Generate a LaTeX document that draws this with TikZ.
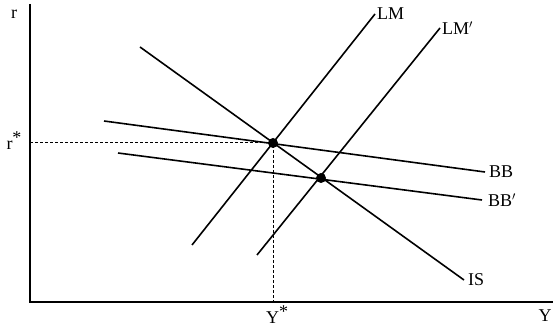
\documentclass[tikz,border=0pt]{standalone}
\usepackage{fontspec}
\setmainfont{Liberation Serif}
\usepackage{tikz}
\usetikzlibrary{arrows.meta,positioning}

\begin{document}
\begin{tikzpicture}[
    x=1pt, y=-1pt,
    font=\fontsize{18}{20}\selectfont,
    axis/.style={line width=2.8pt},
    curve/.style={line width=1.6pt},
    guide/.style={line width=1pt, dash pattern=on 3pt off 2pt},
    eqdot/.style={circle, fill, inner sep=0pt, minimum size=10pt},
    lbl/.style={inner sep=1pt}
]
    \useasboundingbox (0,0) rectangle (553,328);

    %% Achsen
    \coordinate (origin) at (30,302);
    \coordinate (ytop) at (30,4);
    \coordinate (xend) at (553,302);
    \draw[axis] (ytop) -- (origin) -- (xend);
    \node[lbl] (rlab) at (14,14) {r};
    \node[lbl] (ylab) at (545,316) {Y};

    %% Gleichgewichtspunkte
    \node[eqdot] (eq) at (273,143) {};
    \node[eqdot] (eqnew) at (321,178) {};

    %% Hilfslinien
    \coordinate (rstar) at (30,143);
    \coordinate (ystar) at (273,302);
    \draw[guide] (rstar) -- (eq.center) -- (ystar);
    \node[lbl] (rstarlab) at (14,141) {r\raisebox{6pt}{*}};
    \node[lbl] (ystarlab) at (277,315) {Y\raisebox{6pt}{*}};

    %% Kurven
    \coordinate (lm1) at (192,245);
    \coordinate (lm2) at (375,14);
    \coordinate (lmp1) at (257,255);
    \coordinate (lmp2) at (440,28);
    \coordinate (is1) at (140,47);
    \coordinate (is2) at (464,280);
    \coordinate (bb1) at (104,121);
    \coordinate (bb2) at (485,172);
    \coordinate (bbp1) at (118,153);
    \coordinate (bbp2) at (482,200);

    \draw[curve] (lm1) -- (lm2);
    \draw[curve] (lmp1) -- (lmp2);
    \draw[curve] (is1) -- (is2);
    \draw[curve] (bb1) -- (bb2);
    \draw[curve] (bbp1) -- (bbp2);

    %% Beschriftungen
    \node[lbl, right=1pt of lm2] (lmlab) {LM};
    \node[lbl, right=1pt of lmp2] (lmplab) {LM$'$};
    \node[lbl, right=3pt of is2] (islab) {IS};
    \node[lbl, right=3pt of bb2] (bblab) {BB};
    \node[lbl, right=5pt of bbp2] (bbplab) {BB$'$};
\end{tikzpicture}
\end{document}
